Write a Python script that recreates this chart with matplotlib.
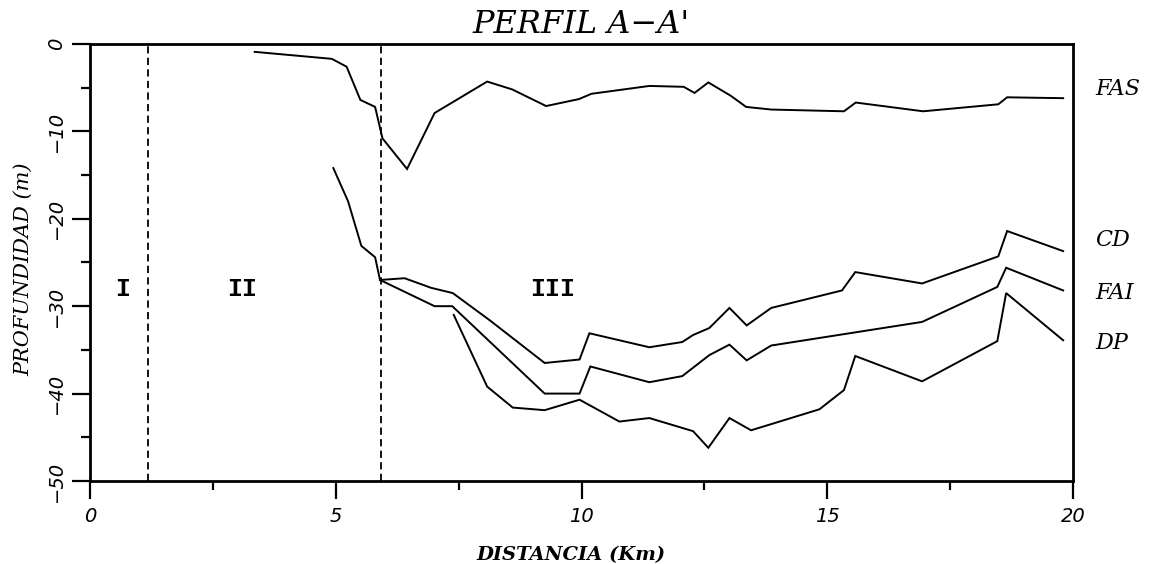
import matplotlib
matplotlib.use("Agg")
import matplotlib.pyplot as plt
from matplotlib.ticker import MultipleLocator

# Profile A-A': depth of each horizon along the section (distance in km, depth in m)
fas_x = [3.35, 4.92, 5.22, 5.50, 5.80, 5.95, 6.45, 7.01, 8.08, 8.59, 9.28, 9.95, 10.20,
         11.38, 12.08, 12.30, 12.58, 13.03, 13.35, 13.86, 15.34, 15.58, 16.95, 18.48,
         18.66, 19.80]
fas_y = [-0.9, -1.7, -2.6, -6.4, -7.2, -10.8, -14.3, -7.9, -4.3, -5.2, -7.1, -6.3, -5.7,
         -4.8, -4.9, -5.6, -4.4, -5.9, -7.2, -7.5, -7.7, -6.7, -7.7, -6.9, -6.1, -6.2]

cd_x = [4.95, 5.25, 5.52, 5.80, 5.90, 6.40, 6.94, 7.38, 8.13, 9.25, 9.96, 10.16, 11.38,
        12.05, 12.27, 12.60, 13.01, 13.36, 13.86, 15.30, 15.57, 16.93, 18.48, 18.66, 19.80]
cd_y = [-14.2, -18.0, -23.1, -24.4, -27.0, -26.8, -27.9, -28.5, -31.6, -36.5, -36.1,
        -33.1, -34.7, -34.1, -33.3, -32.5, -30.2, -32.2, -30.2, -28.2, -26.1, -27.4,
        -24.3, -21.4, -23.7]

fai_x = [5.90, 7.01, 7.37, 9.25, 9.96, 10.18, 11.38, 12.05, 12.60, 13.01, 13.36, 13.86,
         16.93, 18.46, 18.64, 19.80]
fai_y = [-27.0, -30.0, -30.0, -40.0, -40.0, -36.9, -38.7, -38.0, -35.6, -34.4, -36.2,
         -34.5, -31.8, -27.8, -25.6, -28.2]

dp_x = [7.40, 8.08, 8.60, 9.25, 9.96, 10.77, 11.38, 12.27, 12.58, 13.01, 13.45, 14.84,
        15.34, 15.57, 16.93, 18.46, 18.64, 19.80]
dp_y = [-31.0, -39.2, -41.6, -41.9, -40.7, -43.2, -42.8, -44.3, -46.2, -42.8, -44.2,
        -41.8, -39.6, -35.7, -38.6, -34.0, -28.5, -33.9]

zone_bounds = [1.18, 5.92]
zone_names = ["I", "II", "III"]
zone_x = [0.67, 3.09, 9.41]
zone_y = -28.0

horizon_names = ["FAS", "CD", "FAI", "DP"]
horizon_label_y = [-5.2, -22.4, -28.5, -34.2]

x_ticks = [0, 5, 10, 15, 20]
y_ticks = [-50, -40, -30, -20, -10, 0]

fig = plt.figure(figsize=(11.62, 5.64), dpi=100)
ax = fig.add_axes([0.0775, 0.1472, 0.8459, 0.7748])

line_kw = dict(color="black", lw=1.4, solid_joinstyle="miter")
for xs, ys in [(fas_x, fas_y), (cd_x, cd_y), (fai_x, fai_y), (dp_x, dp_y)]:
    ax.plot(xs, ys, **line_kw)

for xb in zone_bounds:
    ax.axvline(xb, color="black", lw=1.3, dashes=(4.0, 2.4))

for name, xz in zip(zone_names, zone_x):
    ax.text(xz, zone_y, name, ha="center", va="center", fontsize=18,
            family="Liberation Mono", fontweight="bold")

for name, yl in zip(horizon_names, horizon_label_y):
    ax.text(20.45, yl, name, ha="left", va="center", fontsize=16,
            family="DejaVu Serif", style="italic", clip_on=False)

ax.set_xlim(0, 20)
ax.set_ylim(-50, 0)
ax.set_xticks(x_ticks)
ax.set_yticks(y_ticks)
ax.xaxis.set_minor_locator(MultipleLocator(2.5))
ax.yaxis.set_minor_locator(MultipleLocator(5))

for sp in ax.spines.values():
    sp.set_linewidth(2.0)

ax.tick_params(axis="both", which="major", direction="out", length=13, width=1.6,
               labelsize=14)
ax.tick_params(axis="both", which="minor", direction="out", length=6.5, width=1.6)
ax.tick_params(axis="x", which="major", pad=6)
ax.tick_params(axis="y", which="major", pad=4)

for lab in ax.get_xticklabels():
    lab.set_family("DejaVu Sans")
    lab.set_style("italic")
for lab in ax.get_yticklabels():
    lab.set_family("DejaVu Sans")
    lab.set_style("italic")
    lab.set_rotation(90)
    lab.set_va("center")

ax.set_ylabel("PROFUNDIDAD (m)", family="DejaVu Serif", style="italic", fontsize=15)
ax.yaxis.set_label_coords(-0.058, 0.485)
ax.set_xlabel("DISTANCIA (Km)", family="DejaVu Serif", style="italic",
              fontweight="bold", fontsize=14)
ax.xaxis.set_label_coords(0.489, -0.149)

fig.text(581 / 1162, 1 - 33 / 564, "PERFIL A\u2212A'", ha="center", va="baseline",
         fontsize=23, family="DejaVu Serif", style="italic")

fig.savefig("out.png", dpi=100)
